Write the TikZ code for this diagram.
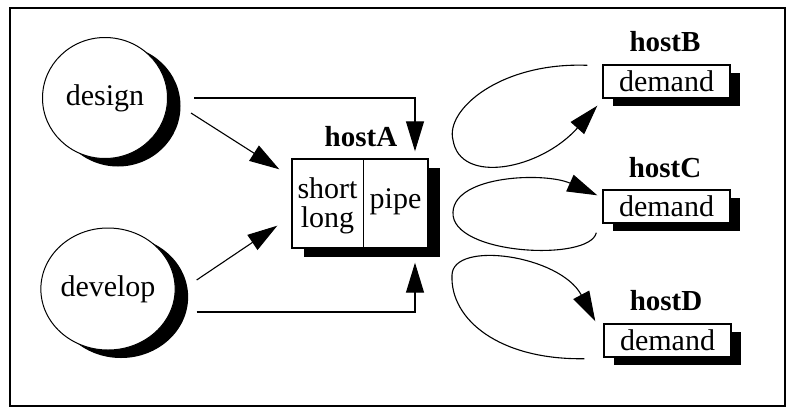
\documentclass[tikz,border=0pt]{standalone}
\usepackage{fontspec}
\setmainfont{Liberation Serif}
\usetikzlibrary{arrows.meta,shapes.geometric,shadows}

\tikzset{
  blob/.style={ellipse, draw, line width=1pt, fill=white, inner sep=0pt,
    font=\fontsize{30}{30}\selectfont,
    drop shadow={shadow xshift=13pt, shadow yshift=-8pt, fill=black, opacity=1}},
  hostbox/.style={rectangle, draw, line width=1.4pt, fill=white, inner sep=0pt,
    minimum width=127pt, minimum height=33pt,
    font=\fontsize{30}{30}\selectfont,
    drop shadow={shadow xshift=10pt, shadow yshift=-8pt, fill=black, opacity=1}},
  pipebox/.style={rectangle, draw, line width=1.4pt, fill=white, inner sep=0pt,
    minimum width=136pt, minimum height=89pt,
    drop shadow={shadow xshift=12pt, shadow yshift=-9pt, fill=black, opacity=1}},
  hostlabel/.style={font=\fontsize{29}{29}\selectfont\bfseries, inner sep=0pt, anchor=base},
  plain/.style={font=\fontsize{30}{30}\selectfont, inner sep=0pt, anchor=base},
  arr/.style={line width=1.1pt, -{Triangle[length=30pt,width=18pt]}},
}

\begin{document}
\begin{tikzpicture}[x=1pt,y=-1pt]
  \useasboundingbox (0,0) rectangle (787,410);
  % outer frame
  \draw[line width=1.6pt] (10,8) rectangle (785,406);

  % activity bubbles
  \node[blob, minimum width=125pt, minimum height=121pt] (design) at (105,98) {design};
  \node[blob, minimum width=129pt, minimum height=122pt] (develop) at (108,289) {develop};

  % central host with its two queues
  \node[pipebox] (hostA) at (360,203.5) {};
  \node[hostlabel] (labA) at (361,146) {hostA};
  \draw[line width=1pt] ([xshift=3pt]hostA.north) -- ([xshift=3pt]hostA.south);
  \node[plain] (short) at (327.5,198) {short};
  \node[plain] (long) at (327.5,227) {long};
  \node[plain] (pipe) at (395.5,208) {pipe};

  % demand hosts
  \node[hostbox] (hostB) at (666.5,81.5) {demand};
  \node[hostlabel] (labB) at (665,51) {hostB};
  \node[hostbox] (hostC) at (666.5,206.5) {demand};
  \node[hostlabel] (labC) at (665,177) {hostC};
  \node[hostbox] (hostD) at (667.5,340.5) {demand};
  \node[hostlabel] (labD) at (666,310) {hostD};

  % feeds into hostA
  \draw[arr] ([shift={(23,15)}]design.east) -- ([shift={(-12,11)}]hostA.north west);
  \draw[arr] ([shift={(26,0)}]design.east) -| ([shift={(55,-7)}]hostA.north);
  \draw[arr] ([shift={(21,-9)}]develop.east) -- ([shift={(-14,-23)}]hostA.south west);
  \draw[arr] ([shift={(21,23)}]develop.east) -| ([shift={(55,14)}]hostA.south);

  % loops out to the demand hosts
  \draw[arr] ([shift={(-15,1)}]hostB.north west)
    .. controls (500,62) and (445,110) .. (453,140)
    .. controls (460,185) and (540,170) .. ([shift={(-5,7)}]hostB.south west);
  \draw[arr] ([shift={(-6,9)}]hostC.south west)
    .. controls (590,262) and (450,255) .. (453,212)
    .. controls (455,175) and (545,172) .. ([shift={(-5,6)}]hostC.north west);
  \draw[arr] ([shift={(-19,1)}]hostD.south west)
    .. controls (500,360) and (450,320) .. (452,275)
    .. controls (453,240) and (560,255) .. ([shift={(-8,-2)}]hostD.north west);
\end{tikzpicture}
\end{document}
